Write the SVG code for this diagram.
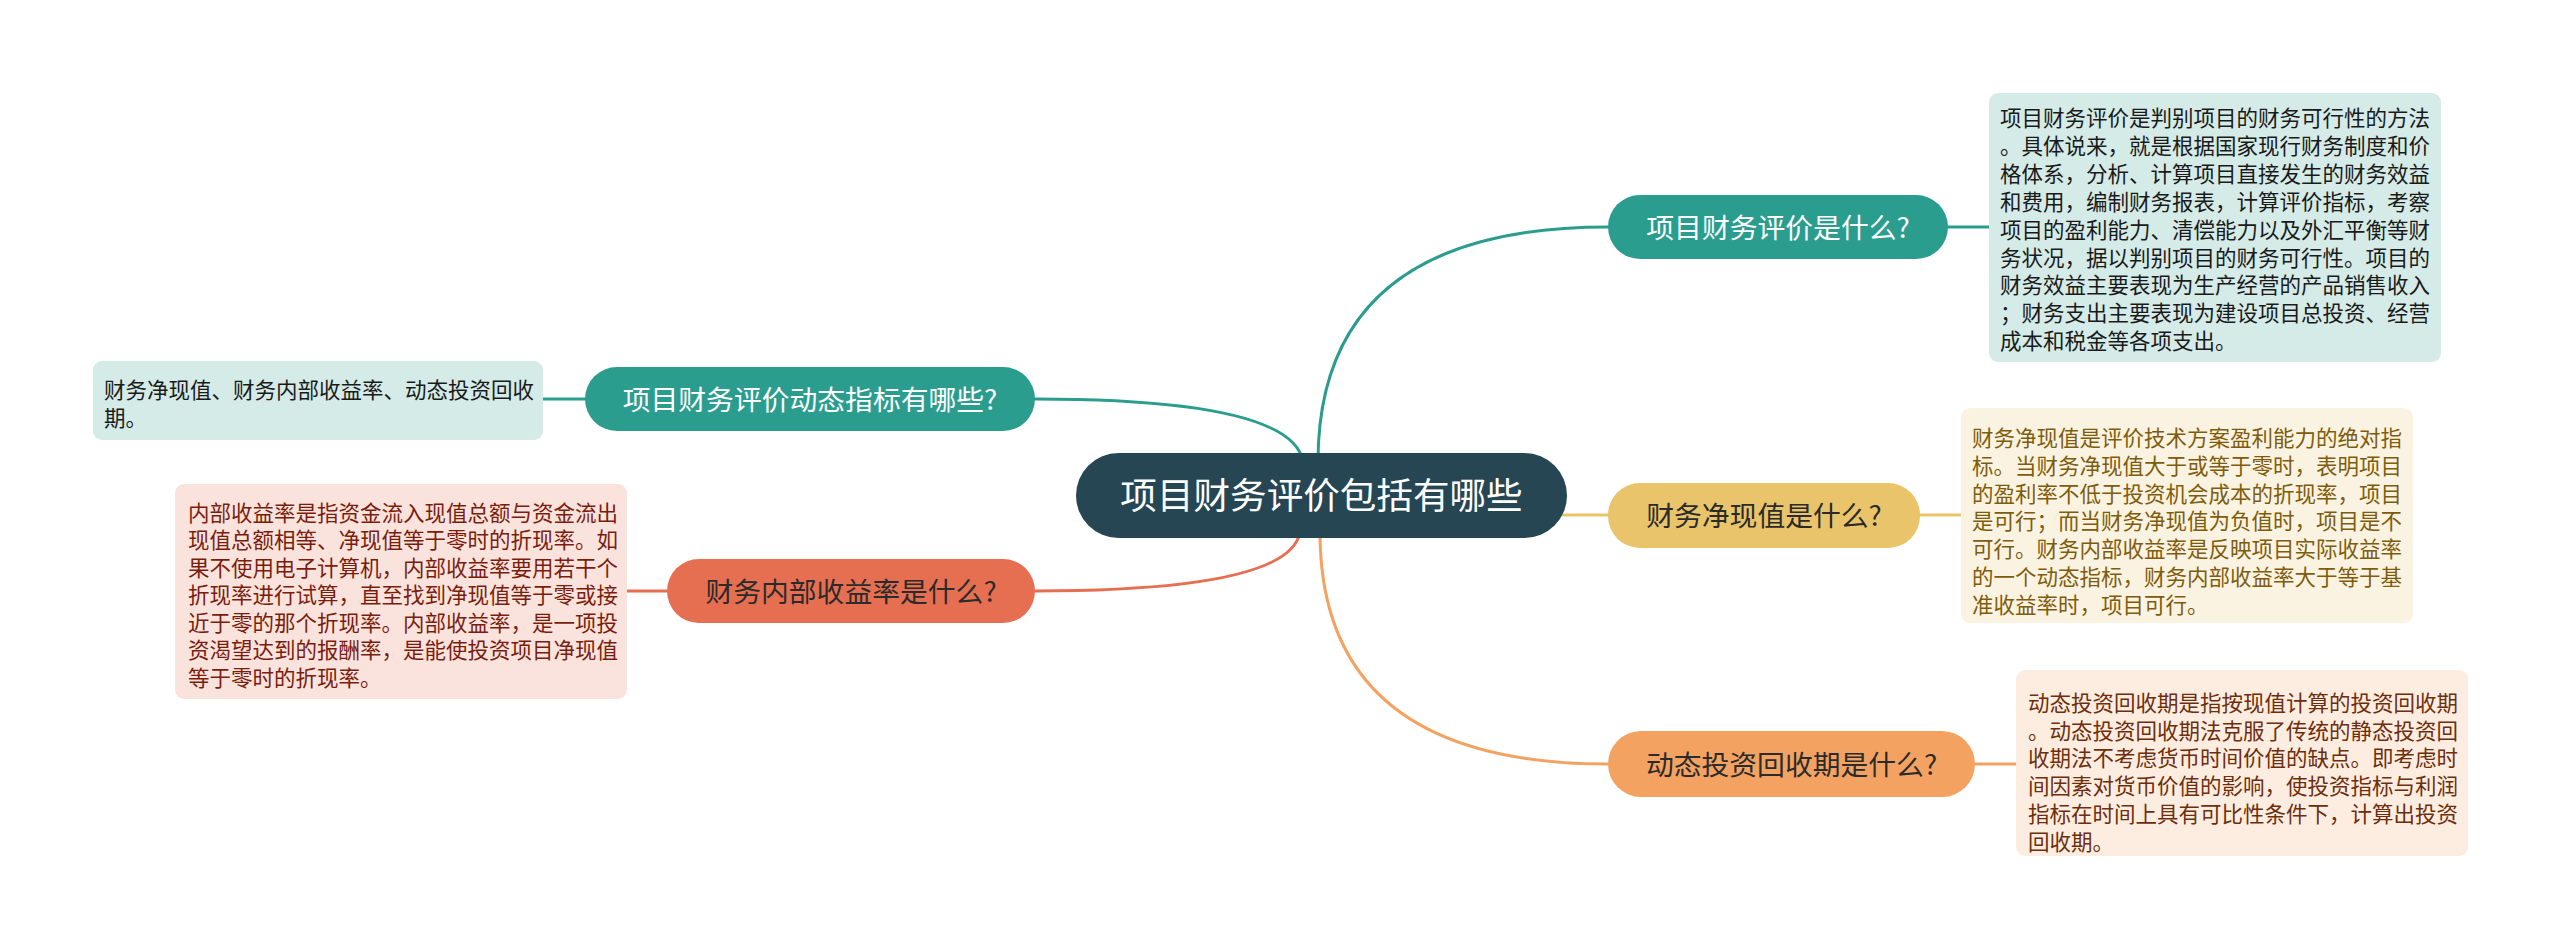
<svg xmlns="http://www.w3.org/2000/svg" width="2560" height="949" viewBox="0 0 2560 949">
<style>
.cjk{font-family:"Noto Sans CJK SC","Noto Sans",sans-serif}
.main{font-size:36.6px;fill:#ffffff}
.br{font-size:27.8px;text-anchor:middle}
.det{font-size:21.5px}
.wl{fill:#ffffff}
.dk{fill:#2b2b2b}
.c{fill:none;stroke-width:3;stroke-linecap:round}
</style>
<rect width="2560" height="949" fill="#ffffff"/>
<g id="connectors">
<path class="c" stroke="#2a9d8f" d="M1318,462 Q1318,227 1608,227"/>
<path class="c" stroke="#2a9d8f" d="M1303,462 Q1293,399 1035,399"/>
<path class="c" stroke="#e9c46a" d="M1550,515 L1608,515"/>
<path class="c" stroke="#f4a261" d="M1320,532 Q1320,764 1608,764"/>
<path class="c" stroke="#e76f51" d="M1300,532 Q1290,591 1035,591"/>
<path class="c" stroke="#2a9d8f" d="M1948,227 L1989,227"/>
<path class="c" stroke="#e9c46a" d="M1920,515 L1961,515"/>
<path class="c" stroke="#f4a261" d="M1975,764 L2016,764"/>
<path class="c" stroke="#2a9d8f" d="M585,399 L543,399"/>
<path class="c" stroke="#e76f51" d="M667,591 L627,591"/>
</g>
<g id="center">
<rect x="1076" y="453" width="491" height="85" rx="42.5" fill="#264653"/>
<text class="cjk main" x="1321.5" y="509" text-anchor="middle">项目财务评价包括有哪些</text>
</g>
<g id="n1">
<rect x="1608" y="195" width="340" height="64" rx="32" fill="#2a9d8f"/>
<text class="cjk br wl" x="1778" y="237.5">项目财务评价是什么?</text>
</g>
<g id="n2">
<rect x="1608" y="483" width="312" height="65" rx="32" fill="#e9c46a"/>
<text class="cjk br dk" x="1764" y="526">财务净现值是什么?</text>
</g>
<g id="n3">
<rect x="1608" y="731" width="367" height="66" rx="33" fill="#f4a261"/>
<text class="cjk br dk" x="1791.5" y="774.5">动态投资回收期是什么?</text>
</g>
<g id="n4">
<rect x="585" y="367" width="450" height="64" rx="32" fill="#2a9d8f"/>
<text class="cjk br wl" x="810" y="409.5">项目财务评价动态指标有哪些?</text>
</g>
<g id="n5">
<rect x="667" y="559" width="368" height="64" rx="32" fill="#e76f51"/>
<text class="cjk br dk" x="851" y="601.5">财务内部收益率是什么?</text>
</g>
<g id="d1">
<rect x="1989" y="93" width="452" height="269" rx="9" fill="#d4ebe8"/>
<text class="cjk det" x="2000" y="126" fill="#1a1a1a">
<tspan x="2000">项目财务评价是判别项目的财务可行性的方法</tspan>
<tspan x="2000" dy="27.9">。具体说来，就是根据国家现行财务制度和价</tspan>
<tspan x="2000" dy="27.9">格体系，分析、计算项目直接发生的财务效益</tspan>
<tspan x="2000" dy="27.9">和费用，编制财务报表，计算评价指标，考察</tspan>
<tspan x="2000" dy="27.9">项目的盈利能力、清偿能力以及外汇平衡等财</tspan>
<tspan x="2000" dy="27.9">务状况，据以判别项目的财务可行性。项目的</tspan>
<tspan x="2000" dy="27.9">财务效益主要表现为生产经营的产品销售收入</tspan>
<tspan x="2000" dy="27.9">；财务支出主要表现为建设项目总投资、经营</tspan>
<tspan x="2000" dy="27.9">成本和税金等各项支出。</tspan>
</text>
</g>
<g id="d2">
<rect x="1961" y="408" width="452" height="215" rx="9" fill="#fbf3e1"/>
<text class="cjk det" x="1972" y="446" fill="#7f5c0c">
<tspan x="1972">财务净现值是评价技术方案盈利能力的绝对指</tspan>
<tspan x="1972" dy="27.8">标。当财务净现值大于或等于零时，表明项目</tspan>
<tspan x="1972" dy="27.8">的盈利率不低于投资机会成本的折现率，项目</tspan>
<tspan x="1972" dy="27.8">是可行；而当财务净现值为负值时，项目是不</tspan>
<tspan x="1972" dy="27.8">可行。财务内部收益率是反映项目实际收益率</tspan>
<tspan x="1972" dy="27.8">的一个动态指标，财务内部收益率大于等于基</tspan>
<tspan x="1972" dy="27.8">准收益率时，项目可行。</tspan>
</text>
</g>
<g id="d3">
<rect x="2016" y="670" width="452" height="186" rx="9" fill="#fdede1"/>
<text class="cjk det" x="2028" y="711" fill="#6e2e0b">
<tspan x="2028">动态投资回收期是指按现值计算的投资回收期</tspan>
<tspan x="2028" dy="27.7">。动态投资回收期法克服了传统的静态投资回</tspan>
<tspan x="2028" dy="27.7">收期法不考虑货币时间价值的缺点。即考虑时</tspan>
<tspan x="2028" dy="27.7">间因素对货币价值的影响，使投资指标与利润</tspan>
<tspan x="2028" dy="27.7">指标在时间上具有可比性条件下，计算出投资</tspan>
<tspan x="2028" dy="27.7">回收期。</tspan>
</text>
</g>
<g id="d4">
<rect x="93" y="361" width="450" height="79" rx="9" fill="#d4ebe8"/>
<text class="cjk det" x="104" y="398" fill="#1a1a1a">
<tspan x="104">财务净现值、财务内部收益率、动态投资回收</tspan>
<tspan x="104" dy="28">期。</tspan>
</text>
</g>
<g id="d5">
<rect x="175" y="484" width="452" height="215" rx="9" fill="#fbe3dd"/>
<text class="cjk det" x="188" y="520.5" fill="#7a1d0d">
<tspan x="188">内部收益率是指资金流入现值总额与资金流出</tspan>
<tspan x="188" dy="27.5">现值总额相等、净现值等于零时的折现率。如</tspan>
<tspan x="188" dy="27.5">果不使用电子计算机，内部收益率要用若干个</tspan>
<tspan x="188" dy="27.5">折现率进行试算，直至找到净现值等于零或接</tspan>
<tspan x="188" dy="27.5">近于零的那个折现率。内部收益率，是一项投</tspan>
<tspan x="188" dy="27.5">资渴望达到的报酬率，是能使投资项目净现值</tspan>
<tspan x="188" dy="27.5">等于零时的折现率。</tspan>
</text>
</g>
</svg>
